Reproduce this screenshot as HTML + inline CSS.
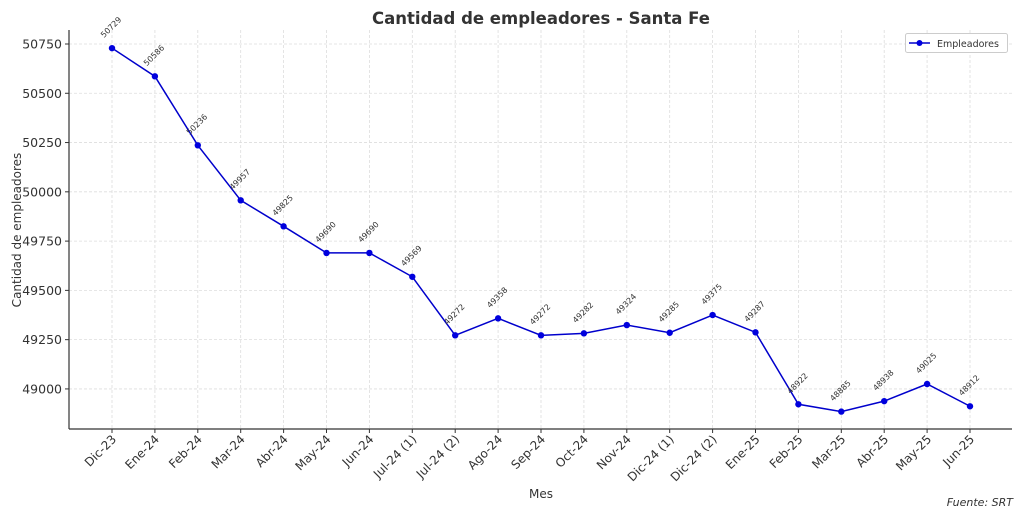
<!DOCTYPE html>
<html><head><meta charset="utf-8"><style>body{margin:0;background:#fff}svg{display:block}text{font-family:"DejaVu Sans","Liberation Sans",sans-serif}</style></head>
<body>
<svg id="s" width="1024" height="512" xmlns="http://www.w3.org/2000/svg"></svg>
<script>
const labs=["Dic-23","Ene-24","Feb-24","Mar-24","Abr-24","May-24","Jun-24","Jul-24 (1)","Jul-24 (2)","Ago-24","Sep-24","Oct-24","Nov-24","Dic-24 (1)","Dic-24 (2)","Ene-25","Feb-25","Mar-25","Abr-25","May-25","Jun-25"];
const vals=[50729,50586,50236,49957,49825,49690,49690,49569,49272,49358,49272,49282,49324,49285,49375,49287,48922,48885,48938,49025,48912];
const X=i=>112+i*42.9, Y=v=>44+(50750-v)*0.1971;
let h='';
h+=`<text x="541" y="24" text-anchor="middle" font-size="16.5" font-weight="bold" fill="#333">Cantidad de empleadores - Santa Fe</text>`;
for(let i=0;i<21;i++){const x=X(i);h+=`<line x1="${x}" y1="30" x2="${x}" y2="429" stroke="#ddd" stroke-width="0.8" stroke-dasharray="3,2"/><line x1="${x}" y1="429" x2="${x}" y2="433" stroke="#333"/><text transform="translate(${x+5},440) rotate(-45)" text-anchor="end" font-size="12" fill="#333">${labs[i]}</text>`;}
for(let v=49000;v<=50750;v+=250){const y=Y(v);h+=`<line x1="69" y1="${y}" x2="1012" y2="${y}" stroke="#ddd" stroke-width="0.8" stroke-dasharray="3,2"/><line x1="65" y1="${y}" x2="69" y2="${y}" stroke="#333"/><text x="62" y="${y+4.5}" text-anchor="end" font-size="12.5" fill="#333">${v}</text>`;}
h+=`<line x1="69" y1="30" x2="69" y2="429" stroke="#333" stroke-width="1.2"/><line x1="69" y1="429" x2="1012" y2="429" stroke="#333" stroke-width="1.2"/>`;
h+=`<polyline fill="none" stroke="#0000cc" stroke-width="1.5" points="${vals.map((v,i)=>X(i)+','+Y(v)).join(' ')}"/>`;
vals.forEach((v,i)=>{const x=X(i),y=Y(v);h+=`<circle cx="${x}" cy="${y}" r="3.2" fill="#0000dd"/><text transform="translate(${x+1},${y-19}) rotate(-45)" text-anchor="middle" font-size="8" fill="#333">${v}</text>`;});
h+=`<text x="541" y="498" text-anchor="middle" font-size="12" fill="#333">Mes</text>`;
h+=`<text transform="translate(21,230) rotate(-90)" text-anchor="middle" font-size="12" fill="#333">Cantidad de empleadores</text>`;
h+=`<text x="1013" y="506" text-anchor="end" font-size="11" font-style="italic" fill="#333">Fuente: SRT</text>`;
h+=`<rect x="905.5" y="33.5" width="102" height="19" rx="2" fill="#fff" stroke="#ccc"/><line x1="909" y1="43" x2="930" y2="43" stroke="#0000cc" stroke-width="1.5"/><circle cx="919.5" cy="43" r="3" fill="#0000dd"/><text x="937" y="47" font-size="9.5" fill="#333">Empleadores</text>`;
document.getElementById('s').innerHTML=h;
</script>
</body></html>
